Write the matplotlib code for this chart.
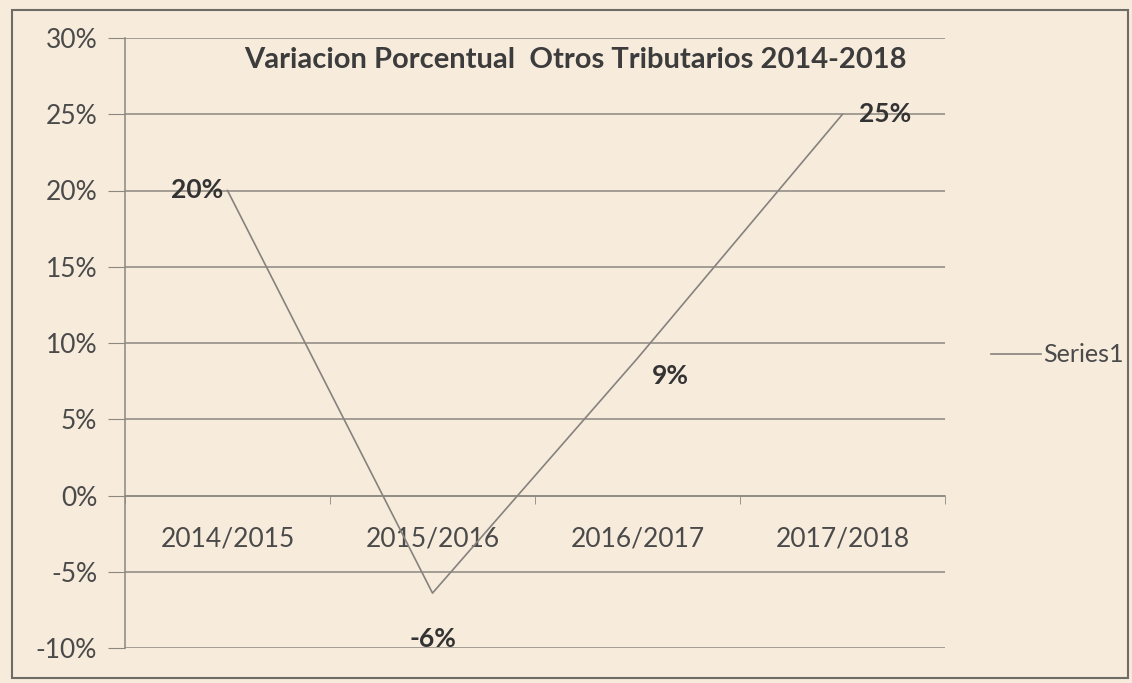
import matplotlib
matplotlib.use("Agg")
import matplotlib.pyplot as plt
from matplotlib.patches import Rectangle
from matplotlib.ticker import FuncFormatter

categories = ["2014/2015", "2015/2016", "2016/2017", "2017/2018"]
values = [0.20, -0.064, 0.09, 0.25]
value_labels = ["20%", "-6%", "9%", "25%"]
series_name = "Series1"
title = "Variacion Porcentual  Otros Tributarios 2014-2018"

plt.rcParams['font.family'] = ['Lato', 'DejaVu Sans']

bg = "#f7ebdc"
txt = "#4a4a4a"
grid = "#8c8780"

fig = plt.figure(figsize=(11.32, 6.83), dpi=100, facecolor=bg)
ax = fig.add_axes([125/1132, 1-648/683, (945-125)/1132, (648-38)/683])
ax.set_facecolor(bg)

x = list(range(len(categories)))
line, = ax.plot(x, values, color="#86827d", lw=1.2, label=series_name)

ax.set_ylim(-0.10, 0.30)
ax.set_xlim(-0.5, len(categories) - 0.5)
yt = [i / 100 for i in range(-10, 31, 5)]
ax.set_yticks(yt)
ax.yaxis.set_major_formatter(FuncFormatter(lambda v, p: f"{round(v*100):d}%"))
ax.grid(axis='y', color=grid, lw=1.1)
ax.set_axisbelow(True)

for s in ['top', 'right']:
    ax.spines[s].set_visible(False)
ax.spines['left'].set_color(grid)
ax.spines['left'].set_linewidth(1.1)
ax.spines['bottom'].set_position(('data', 0))
ax.spines['bottom'].set_color(grid)
ax.spines['bottom'].set_linewidth(1.1)

ax.tick_params(axis='y', length=12, color=grid, labelsize=19, labelcolor=txt, pad=8)
ax.set_xticks(x)
ax.set_xticklabels(categories)
ax.tick_params(axis='x', length=0, labelsize=19, labelcolor=txt, pad=22)
ax.set_xticks([i + 0.5 for i in range(-1, len(categories))], minor=True)
ax.tick_params(axis='x', which='minor', length=6, color=grid, direction='out')

offsets = [(-0.02, 0.0, 'right', 'center'),
           (0.0, -0.022, 'center', 'top'),
           (0.07, -0.004, 'left', 'top'),
           (0.08, 0.0, 'left', 'center')]
for xi, v, lab, (dx, dy, ha, va) in zip(x, values, value_labels, offsets):
    ax.text(xi + dx, v + dy, lab, ha=ha, va=va, fontsize=19, fontweight='bold', color="#333333")

fig.text(575/1132, 1-60/683, title, ha='center', va='center', fontsize=21,
         fontweight='bold', color="#3c3c3c")

fig.legend(handles=[line], loc='center left', bbox_to_anchor=(968/1132, 1-355/683),
           frameon=False, fontsize=18, labelcolor=txt, handlelength=2.0, handletextpad=0.1)

fig.patches.append(Rectangle((12/1132, 1-678/683), (1128-12)/1132, (678-10)/683,
                             transform=fig.transFigure, fill=False, edgecolor="#6f6b66", lw=1.5))

fig.savefig("out.png", dpi=100, facecolor=bg)
